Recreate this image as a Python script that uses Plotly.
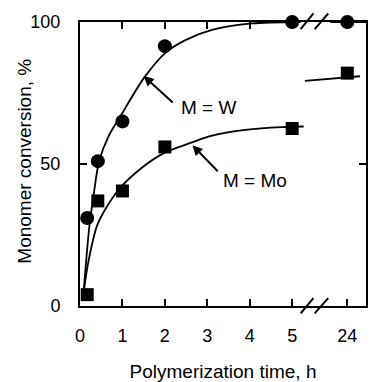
import plotly.graph_objects as go

# Sampling times (h) and monomer conversion (%)
time_h = [0.17, 0.42, 1, 2, 5, 24]
conv_W = [31, 51, 65, 91.5, 100, 100]
conv_Mo = [4, 37, 40.5, 56, 62.5, 82]

# Smooth trend curves through the data (h, %)
curve_W_t = [0.08, 0.22, 0.33, 0.45, 0.68, 0.96, 1.52, 2.04, 2.51, 3.11, 4.05, 5.2]
curve_W_y = [4, 28, 40, 51, 60, 67, 80.6, 89.5, 93.8, 97.2, 99.5, 100]
curve_Mo_t = [0.08, 0.19, 0.42, 0.89, 1.45, 2.0, 2.62, 3.11, 3.9, 4.75, 5.27]
curve_Mo_y = [4, 15, 29, 40.6, 48.6, 54, 57.5, 60, 62, 63, 63.2]
tail_W_t = [23.6, 24.5]
tail_W_y = [100, 100]
tail_Mo_t = [23.0, 24.3]
tail_Mo_y = [79.3, 80.9]

tick_hours = [0, 1, 2, 3, 4, 5, 24]
tick_text = ["0", "1", "2", "3", "4", "5", "24"]
y_ticks = [0, 50, 100]

# Broken time axis: 0-5 h linear, then a jump so that 24 h sits just after the break
BREAK_AT = 5.5
POS_24 = 6.3


def axis_pos(h):
    return h if h <= BREAK_AT else h - 24 + POS_24


def to_pos(values):
    return [axis_pos(v) for v in values]


FONT = "Liberation Sans, Arial, Helvetica, sans-serif"
line_style = dict(color="black", width=1.8)

fig = go.Figure()
for tx, ty in [(curve_W_t, curve_W_y), (curve_Mo_t, curve_Mo_y),
               (tail_W_t, tail_W_y), (tail_Mo_t, tail_Mo_y)]:
    fig.add_trace(go.Scatter(x=to_pos(tx), y=ty, mode="lines",
                             line=dict(shape="spline", smoothing=0.8, **line_style),
                             hoverinfo="skip", showlegend=False, cliponaxis=False))

fig.add_trace(go.Scatter(x=to_pos(time_h), y=conv_W, mode="markers", name="M = W",
                         marker=dict(symbol="circle", size=14, color="black"),
                         showlegend=False, cliponaxis=False))
fig.add_trace(go.Scatter(x=to_pos(time_h), y=conv_Mo, mode="markers", name="M = Mo",
                         marker=dict(symbol="square", size=13, color="black"),
                         showlegend=False, cliponaxis=False))

# Axis-break marks (//) on the bottom and top frame lines
shapes = []
for yb, yt in [(-0.026, 0.028), (0.975, 1.030)]:
    for x0, x1 in [(5.2, 5.5), (5.53, 5.85)]:
        shapes.append(dict(type="line", xref="x", yref="paper", x0=x0, x1=x1,
                           y0=yb, y1=yt, line=dict(color="black", width=2)))

arrow_style = dict(showarrow=True, arrowhead=2, arrowsize=1, arrowwidth=2,
                   arrowcolor="black", text="", axref="x", ayref="y")
label_font = dict(family=FONT, size=19, color="black")
annotations = [
    dict(x=1.5, y=81, ax=2.22, ay=71.2, **arrow_style),
    dict(x=3.02, y=69.8, text="M = W", showarrow=False, font=label_font),
    dict(x=2.65, y=56.6, ax=3.28, ay=46.9, **arrow_style),
    dict(x=4.12, y=44.1, text="M = Mo", showarrow=False, font=label_font),
    # vertical axis title
    dict(xref="paper", yref="paper", x=-0.194, y=0.51, xanchor="center", yanchor="middle",
         text="Monomer conversion, %", textangle=-90, showarrow=False, font=label_font),
]

fig.update_layout(
    width=371, height=382,
    margin=dict(l=80, r=3, t=22, b=72),
    paper_bgcolor="white", plot_bgcolor="white",
    font=dict(family=FONT, size=18, color="black"),
    shapes=shapes, annotations=annotations,
    xaxis=dict(range=[0, 6.74], tickvals=to_pos(tick_hours), ticktext=tick_text,
               ticks="inside", ticklen=7, tickwidth=2, tickcolor="black",
               showline=True, linecolor="black", linewidth=2, mirror="ticks",
               showgrid=False, zeroline=False, ticklabelstandoff=12,
               title=dict(text="Polymerization time, h", standoff=20,
                          font=dict(size=19))),
    yaxis=dict(range=[0, 100], tickvals=y_ticks,
               ticks="inside", ticklen=7, tickwidth=2, tickcolor="black",
               showline=True, linecolor="black", linewidth=2, mirror="ticks",
               showgrid=False, zeroline=False, ticklabelstandoff=14),
)

fig.write_html("out.html")
